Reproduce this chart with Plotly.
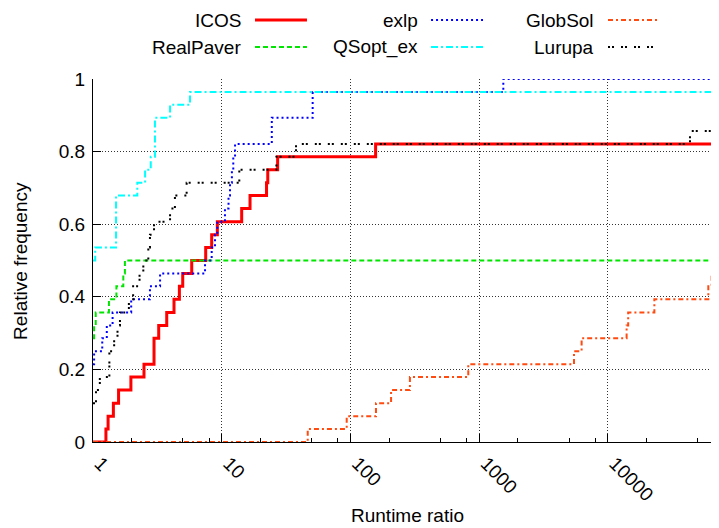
import plotly.graph_objects as go

# ---- data ----
ratio_icos = [1, 1.26, 1.31, 1.44, 1.58, 1.97, 2.49, 2.98, 3.24, 3.74, 4.26, 4.69, 4.98, 5.85,
              7.51, 8.36, 9.25, 14.3, 16.6, 22.3, 22.8, 27.2, 157, 80000]
frac_icos = [0, .036, .071, .107, .143, .179, .214, .286, .321, .357, .393, .429, .464, .5,
             .536, .571, .607, .643, .679, .714, .75, .786, .821, .821]

ratio_realpaver = [1, 1.02, 1.05, 1.33, 1.52, 1.72, 1.77, 80000]
frac_realpaver = [.286, .321, .357, .393, .429, .464, .5, .5]

ratio_exlp = [1, 1.02, 1.18, 1.28, 1.42, 1.98, 2.77, 3.32, 7.42, 8.36, 8.87, 9.25, 10.6, 11.3,
              11.6, 12.0, 12.3, 12.7, 24.5, 50.9, 1542, 80000]
frac_exlp = [.214, .25, .286, .321, .357, .393, .429, .464, .5, .536, .571, .607, .643, .679,
             .714, .75, .786, .821, .893, .964, 1.0, 1.0]

ratio_qsopt = [1, 1.04, 1.51, 2.21, 2.54, 2.81, 3.03, 3.97, 5.67, 80000]
frac_qsopt = [.5, .536, .679, .714, .75, .786, .893, .929, .964, .964]

ratio_globsol = [1, 46.6, 93.6, 158, 207, 290, 824, 5460, 6260, 14000, 14400, 23000, 60400,
                 64100, 80000]
frac_globsol = [0, .036, .071, .107, .143, .179, .214, .25, .286, .321, .357, .393, .429,
                .464, .464]

ratio_lurupa = [1, 1.055, 1.13, 1.34, 1.46, 1.55, 1.62, 1.9, 2.05, 2.3, 2.46, 2.69, 2.77, 2.98,
                3.97, 4.33, 5.34, 13.7, 26.6, 37.8, 43500, 80000]
frac_lurupa = [.107, .143, .179, .25, .286, .321, .357, .393, .429, .464, .5, .536, .571, .607,
               .643, .679, .714, .75, .786, .821, .857, .857]

x_tickvals = [1, 10, 100, 1000, 10000]
x_ticktext = ["1", "10", "100", "1000", "10000"]
x_minor_vals = [2, 5, 8, 20, 50, 80, 200, 500, 800, 2000, 5000, 8000, 20000, 50000]
y_tickvals = [0, 0.2, 0.4, 0.6, 0.8, 1.0]
y_ticktext = ["0", "0.2", "0.4", "0.6", "0.8", "1"]

FONT = "Liberation Sans, Arial, sans-serif"
FS = 19

series = [
    ("ICOS", ratio_icos, frac_icos, "#ff0000", 3, "solid"),
    ("RealPaver", ratio_realpaver, frac_realpaver, "#00e600", 2, "5px,3px"),
    ("exlp", ratio_exlp, frac_exlp, "#0000ff", 2, "2px,3px"),
    ("QSopt_ex", ratio_qsopt, frac_qsopt, "#00ffff", 2, "7px,3px,2px,3px"),
    ("GlobSol", ratio_globsol, frac_globsol, "#ff4a10", 2, "5px,3px,2px,3px"),
    ("Lurupa", ratio_lurupa, frac_lurupa, "#000000", 2, "2px,2px,2px,7px"),
]

fig = go.Figure()
for name, xs, ys, color, width, dash in series:
    fig.add_trace(go.Scatter(x=xs, y=ys, mode="lines", name=name, showlegend=False,
                             line=dict(shape="hv", color=color, width=width, dash=dash)))

# legend drawn manually: text right-aligned, sample line to the right
leg_text_x = [0.2396, 0.2396, 0.5224, 0.5224, 0.8035, 0.8035]
leg_line_x0 = [0.2588, 0.2588, 0.540, 0.540, 0.8227, 0.8227]
leg_row_y = [1.1625, 1.088, 1.1625, 1.088, 1.1625, 1.088]
annotations = []
shapes = []
for i, (name, xs, ys, color, width, dash) in enumerate(series):
    annotations.append(dict(text=name, xref="paper", yref="paper", x=leg_text_x[i],
                            y=leg_row_y[i], xanchor="right", yanchor="middle",
                            showarrow=False, font=dict(family=FONT, size=FS, color="black")))
    shapes.append(dict(type="line", xref="paper", yref="paper", x0=leg_line_x0[i],
                       x1=leg_line_x0[i] + 0.083, y0=leg_row_y[i], y1=leg_row_y[i],
                       line=dict(color=color, width=width, dash=dash)))

annotations.append(dict(text="Runtime ratio", xref="paper", yref="paper", x=0.503, y=-0.202,
                        xanchor="center", yanchor="middle", showarrow=False,
                        font=dict(family=FONT, size=FS, color="black")))
annotations.append(dict(text="Relative frequency", xref="paper", yref="paper", x=-0.116, y=0.5,
                        xanchor="center", yanchor="middle", showarrow=False, textangle=-90,
                        font=dict(family=FONT, size=FS, color="black")))

# page body has an 8px margin, so the figure is 8px smaller and offsets shrink accordingly
fig.update_layout(
    width=711, height=520,
    margin=dict(l=85, r=0, t=71, b=86, autoexpand=False),
    plot_bgcolor="white", paper_bgcolor="white",
    font=dict(family=FONT, size=FS, color="black"),
    annotations=annotations, shapes=shapes,
    showlegend=False,
)
fig.update_xaxes(
    type="log", range=[0, 4.864],
    tickvals=x_tickvals, ticktext=x_ticktext, tickangle=45,
    ticks="inside", ticklen=8, tickcolor="black", tickwidth=1,
    ticklabelstandoff=2, ticklabelshift=7,
    showline=True, linecolor="black", linewidth=1,
    showgrid=True, gridcolor="#333333", gridwidth=1, griddash="1px,2px",
    zeroline=False, automargin=False,
    minor=dict(tickvals=x_minor_vals, ticks="inside", ticklen=4, tickcolor="black",
               showgrid=False),
    tickfont=dict(family=FONT, size=FS, color="black"),
)
fig.update_yaxes(
    range=[0, 1],
    tickvals=y_tickvals, ticktext=y_ticktext,
    ticks="inside", ticklen=8, tickcolor="black", tickwidth=1,
    ticklabelstandoff=3,
    showline=True, linecolor="black", linewidth=1,
    showgrid=True, gridcolor="#333333", gridwidth=1, griddash="1px,2px",
    zeroline=False, automargin=False,
    tickfont=dict(family=FONT, size=FS, color="black"),
)

fig.write_html("out.html")
